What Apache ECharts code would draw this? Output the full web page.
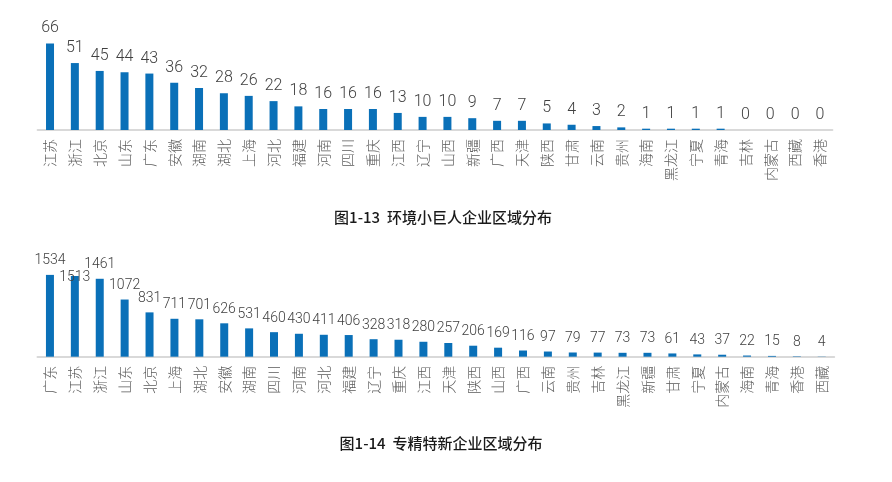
<!DOCTYPE html>
<html>
<head>
<meta charset="utf-8">
<script src="https://cdn.jsdelivr.net/npm/echarts@6/dist/echarts.min.js"></script>
<style>
html,body{margin:0;padding:0;background:#fff;}
#chart{width:892px;height:482px;}
</style>
</head>
<body>
<div id="chart"></div>
<script>
const title1 = '图1-13  环境小巨人企业区域分布';
const categories1 = ['江苏','浙江','北京','山东','广东','安徽','湖南','湖北','上海','河北','福建','河南','四川','重庆','江西','辽宁','山西','新疆','广西','天津','陕西','甘肃','云南','贵州','海南','黑龙江','宁夏','青海','吉林','内蒙古','西藏','香港'];
const values1 = [66,51,45,44,43,36,32,28,26,22,18,16,16,16,13,10,10,9,7,7,5,4,3,2,1,1,1,1,0,0,0,0];

const title2 = '图1-14  专精特新企业区域分布';
const categories2 = ['广东','江苏','浙江','山东','北京','上海','湖北','安徽','湖南','四川','河南','河北','福建','辽宁','重庆','江西','天津','陕西','山西','广西','云南','贵州','吉林','黑龙江','新疆','甘肃','宁夏','内蒙古','海南','青海','香港','西藏'];
const values2 = [1534,1513,1461,1072,831,711,701,626,531,460,430,411,406,328,318,280,257,206,169,116,97,79,77,73,73,61,43,37,22,15,8,4];

const FONT = '"Noto Sans CJK SC", "Noto Sans", sans-serif';
const NUMFONT = 'Roboto, "Noto Sans", sans-serif';
const BAR = '#0A70B8';

const chart = echarts.init(document.getElementById('chart'), null, {renderer: 'canvas'});

function xAxisFor(cats, gi) {
  return {
    type: 'category', gridIndex: gi, data: cats,
    axisTick: {show: false},
    axisLine: {show: true, lineStyle: {color: '#d9d9d9', width: 2}},
    axisLabel: {rotate: 90, interval: 0, margin: 9, color: '#5a5a5a', fontSize: 14, fontWeight: 300, fontFamily: FONT}
  };
}
function yAxisFor(max, gi) {
  return {type: 'value', gridIndex: gi, min: 0, max: max, show: false, splitLine: {show: false}};
}

const data2 = values2.map((v, i) => i === 1 ? {value: v, label: {offset: [0, 15]}} : v);

chart.setOption({
  animation: false,
  backgroundColor: '#fff',
  title: [
    {text: title1, left: 438, top: 205, textAlign: 'center',
     textStyle: {fontSize: 15, fontWeight: 500, color: '#1a1a1a', fontFamily: FONT}},
    {text: title2, left: 436, top: 431, textAlign: 'center',
     textStyle: {fontSize: 15, fontWeight: 500, color: '#1a1a1a', fontFamily: FONT}}
  ],
  grid: [
    {left: 37.6, right: 59.6, top: 25, height: 105},
    {left: 37.5, right: 57.8, top: 260.7, height: 96}
  ],
  xAxis: [xAxisFor(categories1, 0), xAxisFor(categories2, 1)],
  yAxis: [yAxisFor(80, 0), yAxisFor(1800, 1)],
  series: [
    {type: 'bar', xAxisIndex: 0, yAxisIndex: 0, data: values1, barWidth: 8,
     itemStyle: {color: BAR},
     label: {show: true, position: 'top', distance: 7, color: '#404040', fontSize: 16, fontWeight: 300, fontFamily: NUMFONT}},
    {type: 'bar', xAxisIndex: 1, yAxisIndex: 1, data: data2, barWidth: 8,
     itemStyle: {color: BAR},
     label: {show: true, position: 'top', distance: 7, color: '#404040', fontSize: 14, fontWeight: 300, fontFamily: NUMFONT}}
  ]
});
</script>
</body>
</html>
